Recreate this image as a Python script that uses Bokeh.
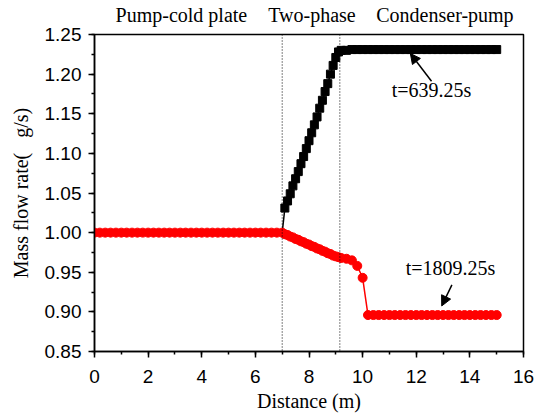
from bokeh.plotting import figure
from bokeh.models import (Label, Arrow, NormalHead, Span, SingleIntervalTicker,
                          PrintfTickFormatter, LinearAxis, FixedTicker)
from bokeh.embed import file_html
from bokeh.resources import INLINE

# ---- data ----
black_x = [7.0, 7.1, 7.2, 7.3, 7.4, 7.5, 7.6, 7.7, 7.8, 7.9, 8.0, 8.1, 8.2, 8.3, 8.4,
           8.5, 8.6, 8.7, 8.8, 8.9, 9.0, 9.1,
           9.2, 9.4, 9.6, 9.8, 10.0, 10.2, 10.4, 10.6, 10.8, 11.0, 11.2, 11.4, 11.6,
           11.8, 12.0, 12.2, 12.4, 12.6, 12.8, 13.0, 13.2, 13.4, 13.6, 13.8, 14.0,
           14.2, 14.4, 14.6, 14.8, 15.0]
black_y = [1.000, 1.031, 1.040, 1.049, 1.059, 1.068, 1.077, 1.087, 1.096, 1.106, 1.116,
           1.126, 1.136, 1.146, 1.157, 1.167, 1.178, 1.188, 1.200, 1.211, 1.221, 1.228,
           1.230, 1.230, 1.231, 1.231, 1.231, 1.231, 1.231, 1.231, 1.231, 1.231, 1.231,
           1.231, 1.231, 1.231, 1.231, 1.231, 1.231, 1.231, 1.231, 1.231, 1.231, 1.231,
           1.231, 1.231, 1.231, 1.231, 1.231, 1.231, 1.231, 1.231]

red_x = [0.0, 0.2, 0.4, 0.6, 0.8, 1.0, 1.2, 1.4, 1.6, 1.8, 2.0, 2.2, 2.4, 2.6, 2.8,
         3.0, 3.2, 3.4, 3.6, 3.8, 4.0, 4.2, 4.4, 4.6, 4.8, 5.0, 5.2, 5.4, 5.6, 5.8,
         6.0, 6.2, 6.4, 6.6, 6.8,
         7.0, 7.1, 7.2, 7.3, 7.4, 7.5, 7.6, 7.7, 7.8, 7.9, 8.0, 8.1, 8.2, 8.3, 8.4,
         8.5, 8.6, 8.7, 8.8, 8.9, 9.0, 9.1, 9.2, 9.4, 9.6, 9.8, 10.0,
         10.2, 10.4, 10.6, 10.8, 11.0, 11.2, 11.4, 11.6, 11.8, 12.0, 12.2, 12.4, 12.6,
         12.8, 13.0, 13.2, 13.4, 13.6, 13.8, 14.0, 14.2, 14.4, 14.6, 14.8, 15.0]
red_y = [1.000, 1.000, 1.000, 1.000, 1.000, 1.000, 1.000, 1.000, 1.000, 1.000, 1.000,
         1.000, 1.000, 1.000, 1.000, 1.000, 1.000, 1.000, 1.000, 1.000, 1.000, 1.000,
         1.000, 1.000, 1.000, 1.000, 1.000, 1.000, 1.000, 1.000, 1.000, 1.000, 1.000,
         1.000, 1.000,
         1.000, 0.998, 0.997, 0.995, 0.994, 0.992, 0.991, 0.989, 0.988, 0.986, 0.985,
         0.983, 0.982, 0.980, 0.979, 0.977, 0.976, 0.974, 0.973, 0.971, 0.970, 0.969,
         0.968, 0.967, 0.965, 0.958, 0.943,
         0.896, 0.896, 0.896, 0.896, 0.896, 0.896, 0.896, 0.896, 0.896, 0.896, 0.896,
         0.896, 0.896, 0.896, 0.896, 0.896, 0.896, 0.896, 0.896, 0.896, 0.896, 0.896,
         0.896, 0.896, 0.896]

section_bounds = [7.0, 9.15]
section_names = ["Pump-cold plate", "Two-phase", "Condenser-pump"]
section_centers = [3.24, 8.11, 13.07]

SERIF = "Liberation Serif"
SANS = "Liberation Sans"

p = figure(width=540, height=414, x_range=(0, 16), y_range=(0.85, 1.25),
           output_backend="svg", toolbar_location=None,
           min_border_left=94, min_border_right=17, min_border_top=33,
           min_border_bottom=62)
p.background_fill_color = "white"
p.border_fill_color = "white"
p.xgrid.visible = False
p.ygrid.visible = False
p.outline_line_color = "black"
p.outline_line_width = 1.5

p.xaxis.ticker = SingleIntervalTicker(interval=2, num_minor_ticks=2)
p.yaxis.ticker = SingleIntervalTicker(interval=0.05, num_minor_ticks=2)
p.yaxis.formatter = PrintfTickFormatter(format="%.2f")
for ax in (p.xaxis[0], p.yaxis[0]):
    ax.axis_line_width = 1.5
    ax.axis_line_color = "black"
    ax.major_tick_in = 0
    ax.major_tick_out = 6
    ax.minor_tick_in = 0
    ax.minor_tick_out = 3
    ax.major_tick_line_width = 1.5
    ax.minor_tick_line_width = 1.5
    ax.major_label_text_font = SANS
    ax.major_label_text_font_size = "19px"
    ax.major_label_text_color = "black"
    ax.axis_label_text_font = SERIF
    ax.axis_label_text_font_size = "20px"
    ax.axis_label_text_font_style = "normal"
    ax.axis_label_text_color = "black"
p.xaxis.axis_label = "Distance (m)"
p.yaxis.axis_label = "Mass flow rate(\u00a0\u00a0\u00a0g/s)"
p.xaxis.major_label_standoff = 12
p.yaxis.major_label_standoff = 7
p.xaxis.axis_label_standoff = 4
p.yaxis.axis_label_standoff = 10

# section names above the frame
top_axis = LinearAxis(ticker=FixedTicker(ticks=section_centers),
                      major_label_overrides={c: n for c, n in zip(section_centers, section_names)},
                      axis_line_color=None, major_tick_line_color=None,
                      minor_tick_line_color=None, major_label_standoff=3,
                      major_label_text_font=SERIF, major_label_text_font_size="20px",
                      major_label_text_color="black")
p.add_layout(top_axis, "above")

for xb in section_bounds:
    p.add_layout(Span(location=xb, dimension="height", line_color="black",
                      line_width=1, line_dash="1 2"))

p.line(black_x, black_y, line_color="black", line_width=1.5)
p.scatter(black_x[1:], black_y[1:], marker="square", size=8, fill_color="black",
          line_color="black")
p.line(red_x, red_y, line_color="red", line_width=1.5)
p.scatter(red_x, red_y, marker="circle", size=9, fill_color="red", line_color="red")

p.add_layout(Label(x=12.57, y=1.180, text="t=639.25s", text_align="center",
                   text_baseline="middle", text_font=SERIF, text_font_size="20px",
                   text_color="black"))
p.add_layout(Label(x=13.28, y=0.955, text="t=1809.25s", text_align="center",
                   text_baseline="middle", text_font=SERIF, text_font_size="20px",
                   text_color="black"))
p.add_layout(Arrow(end=NormalHead(size=10, fill_color="black", line_color="black"),
                   x_start=12.57, y_start=1.191, x_end=11.78, y_end=1.226,
                   line_width=1.5, line_color="black"))
p.add_layout(Arrow(end=NormalHead(size=10, fill_color="black", line_color="black"),
                   x_start=13.33, y_start=0.934, x_end=12.95, y_end=0.9075,
                   line_width=1.5, line_color="black"))

open("out.html", "w").write(file_html(p, INLINE))
